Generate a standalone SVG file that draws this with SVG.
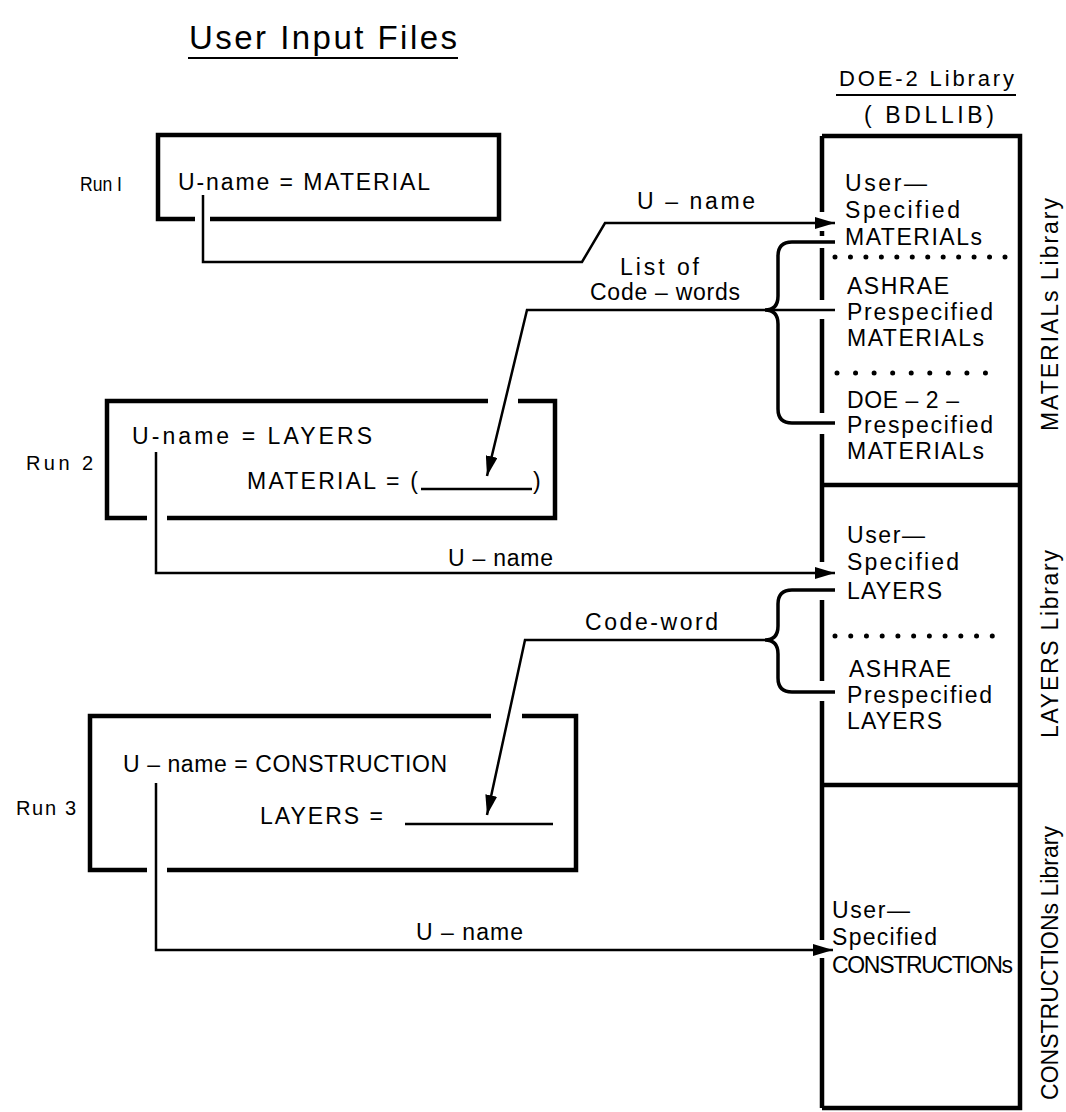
<svg xmlns="http://www.w3.org/2000/svg" width="1066" height="1112" viewBox="0 0 1066 1112">
<defs>
<style>
text{font-family:"Liberation Sans",Arial,sans-serif;fill:#000}
.t{font-size:23px}
.s{font-size:20px}
.lib{font-size:23px}
.box{fill:none;stroke:#000;stroke-width:4.5}
.ln{fill:none;stroke:#000;stroke-width:2.5}
.br{fill:none;stroke:#000;stroke-width:3.5}
.dot{fill:none;stroke:#000;stroke-width:5;stroke-linecap:round}
</style>
<marker id="ah" markerUnits="userSpaceOnUse" markerWidth="20" markerHeight="12" viewBox="0 0 20 12" refX="20" refY="6" orient="auto">
<path d="M0,0 L20,6 L0,12 z" fill="#000"/>
</marker>
</defs>
<rect width="1066" height="1112" fill="#fff"/>

<g id="title">
<text x="189" y="49" style="font-family:'Liberation Sans',sans-serif;font-size:33px" textLength="268" lengthAdjust="spacing">User Input Files</text>
<path d="M188,58 H458" class="ln" style="stroke-width:2"/>
</g>

<g id="run1">
<text x="80" y="191" class="s" textLength="42" lengthAdjust="spacingAndGlyphs">Run I</text>
<path d="M195,219 H158 V135 H499 V219 H210" class="box"/>
<text x="178" y="190" class="t" textLength="252" lengthAdjust="spacing">U-name = MATERIAL</text>
</g>

<g id="run2">
<text x="26" y="470" class="s" textLength="67" lengthAdjust="spacing">Run 2</text>
<path d="M488,401 H107 V518 H147 M167,518 H555 V401 H518" class="box"/>
<text x="132" y="444" class="t" textLength="240" lengthAdjust="spacing">U-name = LAYERS</text>
<text x="247" y="489" class="t" textLength="171" lengthAdjust="spacing">MATERIAL = (</text>
<path d="M421,489 H532" class="ln"/>
<text x="533" y="489" class="t">)</text>
</g>

<g id="run3">
<text x="16" y="815" class="s" textLength="60" lengthAdjust="spacing">Run 3</text>
<path d="M491,716 H90 V870 H147 M167,870 H576 V716 H522" class="box"/>
<text x="123" y="772" class="t" textLength="324" lengthAdjust="spacing">U – name = CONSTRUCTION</text>
<text x="260" y="824" class="t" textLength="123" lengthAdjust="spacing">LAYERS =</text>
<path d="M405,824 H553" class="ln"/>
</g>

<g id="library">
<text x="839" y="86" style="font-size:22px" textLength="175" lengthAdjust="spacing">DOE-2 Library</text>
<path d="M836,95 H1016" class="ln" style="stroke-width:2"/>
<text x="864" y="123" style="font-size:23px" textLength="130" lengthAdjust="spacing">( BDLLIB)</text>
<path d="M822,136 H1020 V1108 H822" class="box"/>
<path d="M822,136 V212 M822,231 V236 M822,248 V300 M822,319 V413 M822,434 V562 M822,600 V681 M822,701 V940 M822,958 V1108" class="box"/>
<path d="M822,485 H1020 M822,785 H1020" class="box"/>
</g>

<g id="materials-library">
<text x="845" y="191" class="lib" textLength="82" lengthAdjust="spacing">User—</text>
<text x="845" y="218" class="lib" textLength="115" lengthAdjust="spacing">Specified</text>
<text x="845" y="245" class="lib" textLength="137" lengthAdjust="spacing">MATERIALs</text>
<path d="M835,257 H1005" class="dot" stroke-dasharray="0 15.4545"/>
<text x="847" y="294" class="lib" textLength="102" lengthAdjust="spacing">ASHRAE</text>
<text x="847" y="320" class="lib" textLength="146" lengthAdjust="spacing">Prespecified</text>
<text x="847" y="346" class="lib" textLength="137" lengthAdjust="spacing">MATERIALs</text>
<path d="M837,373 H1004" class="dot" stroke-dasharray="0 18.5556"/>
<text x="847" y="408" class="lib" textLength="112" lengthAdjust="spacing">DOE – 2 –</text>
<text x="847" y="433" class="lib" textLength="146" lengthAdjust="spacing">Prespecified</text>
<text x="847" y="459" class="lib" textLength="137" lengthAdjust="spacing">MATERIALs</text>
<text transform="translate(1058,431) rotate(-90)" class="lib" textLength="233" lengthAdjust="spacing">MATERIALs Library</text>
</g>

<g id="layers-library">
<text x="847" y="543" class="lib" textLength="78" lengthAdjust="spacing">User—</text>
<text x="847" y="570" class="lib" textLength="112" lengthAdjust="spacing">Specified</text>
<text x="847" y="599" class="lib" textLength="95" lengthAdjust="spacing">LAYERS</text>
<path d="M835,636 H1008" class="dot" stroke-dasharray="0 15.7273"/>
<text x="849" y="677" class="lib" textLength="102" lengthAdjust="spacing">ASHRAE</text>
<text x="847" y="703" class="lib" textLength="145" lengthAdjust="spacing">Prespecified</text>
<text x="847" y="729" class="lib" textLength="95" lengthAdjust="spacing">LAYERS</text>
<text transform="translate(1058,738) rotate(-90)" class="lib" textLength="188" lengthAdjust="spacing">LAYERS Library</text>
</g>

<g id="constructions-library">
<text x="832" y="918" class="lib" textLength="78" lengthAdjust="spacing">User—</text>
<text x="832" y="945" class="lib" textLength="105" lengthAdjust="spacing">Specified</text>
<text x="832" y="973" class="lib" textLength="181" lengthAdjust="spacing">CONSTRUCTIONs</text>
<text transform="translate(1058,1100) rotate(-90)" class="lib" textLength="274" lengthAdjust="spacing">CONSTRUCTIONs Library</text>
</g>

<g id="connectors">
<path d="M203,195 V262 H582 L605,223 H835" class="ln" marker-end="url(#ah)"/>
<text x="637" y="209" class="t" textLength="118" lengthAdjust="spacing">U – name</text>
<path d="M835,242 H792 Q778,242 778,256 V296 Q778,310 765,310 Q778,310 778,324 V409 Q778,423 792,423 H835" class="br"/>
<path d="M835,310 H527 L487,476" class="ln" marker-end="url(#ah)"/>
<text x="620" y="275" class="t" textLength="79" lengthAdjust="spacing">List of</text>
<text x="590" y="300" class="t" textLength="150" lengthAdjust="spacing">Code – words</text>
<path d="M156,452 V573 H835" class="ln" marker-end="url(#ah)"/>
<text x="448" y="566" class="t" textLength="105" lengthAdjust="spacing">U – name</text>
<path d="M835,590 H792 Q778,590 778,604 V626 Q778,640 765,640 Q778,640 778,654 V678 Q778,692 792,692 H835" class="br"/>
<path d="M765,640 H525 L487,815" class="ln" marker-end="url(#ah)"/>
<text x="585" y="630" class="t" textLength="133" lengthAdjust="spacing">Code-word</text>
<path d="M156,783 V950 H833" class="ln" marker-end="url(#ah)"/>
<text x="416" y="940" class="t" textLength="107" lengthAdjust="spacing">U – name</text>
</g>
</svg>
